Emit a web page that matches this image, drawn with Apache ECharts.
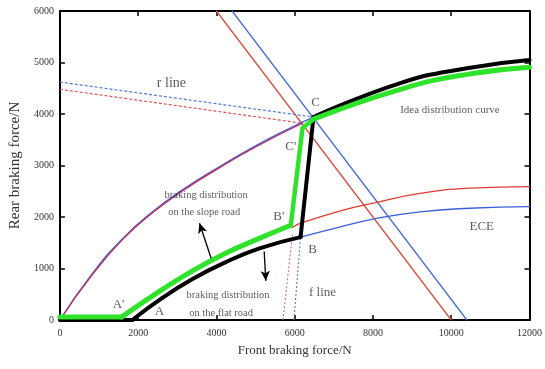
<!DOCTYPE html>
<html>
<head>
<meta charset="utf-8">
<script src="https://cdn.jsdelivr.net/npm/echarts@6/dist/echarts.min.js"></script>
<style>html,body{margin:0;padding:0;background:#fff}#c{width:545px;height:369px}</style>
</head>
<body>
<div id="c"></div>
<script>
// ---- data ([front N, rear N]) ----
const xTicks = [0, 2000, 4000, 6000, 8000, 10000, 12000];
const yTicks = [0, 1000, 2000, 3000, 4000, 5000, 6000];

// thick black: braking distribution on the flat road
const blackFlat   = [[0, 0], [1850, 0]];
const blackRise   = [[1850, 0], [2600, 420], [3400, 800], [4200, 1110], [5100, 1390], [6150, 1610]];
const blackJump   = [[6150, 1610], [6480, 3940]];
const blackIdeal  = [[6480, 3940], [8700, 4600], [10400, 4890], [12000, 5050]];

// thick green: braking distribution on the slope road
const greenFlat   = [[0, 60], [1580, 60]];
const greenRise   = [[1580, 60], [2590, 580], [3400, 960], [4300, 1320], [5140, 1600], [5900, 1840]];
const greenJump   = [[5900, 1840], [6200, 3730], [6480, 3900]];
const greenIdeal  = [[6480, 3900], [8700, 4480], [10400, 4770], [12000, 4910]];

// thin ideal curves from origin
const idealBlue   = [[0, 0], [800, 870], [1600, 1580], [2400, 2120], [3200, 2560], [4000, 2940], [5000, 3380], [6000, 3770], [6480, 3940]];
const idealRed    = [[0, 0], [800, 850], [1600, 1560], [2400, 2100], [3200, 2540], [4000, 2920], [5000, 3360], [6200, 3820]];

// ECE curves
const eceRed      = [[5950, 1800], [6150, 1880], [7170, 2120], [8010, 2270], [9200, 2460], [10475, 2560], [12000, 2590]];
const eceBlue     = [[6150, 1610], [7170, 1810], [8010, 1960], [9200, 2100], [10475, 2170], [12000, 2200]];

// straight lines
const diagRed     = [[4000, 6000], [10000, 0]];
const diagBlue    = [[4400, 6000], [10400, 0]];
const rLineBlue   = [[0, 4620], [6480, 3940]];
const rLineRed    = [[0, 4480], [6200, 3820]];
const fLineRed    = [[5700, 0], [5950, 1700]];
const fLineBlue   = [[5980, 0], [6150, 1610]];

// arrows [from, to]
const arrows = [
  [[3865, 1200], [3567, 1880]],
  [[5220, 1330], [5263, 760]]
];

// annotations [text, x, y, fontSize]
const notes = [
  ['r line', 2850, 4600, 14],
  ['C', 6535, 4214, 13],
  ["C'", 5900, 3360, 13],
  ["B'", 5594, 2000, 13],
  ['B', 6458, 1359, 13],
  ['f line', 6712, 524, 13],
  ['ECE', 10780, 1806, 13],
  ['Idea distribution curve', 9967, 4078, 11],
  ["A'", 1500, 291, 13],
  ['A', 2543, 155, 13],
  ['braking distribution', 3738, 2427, 10.5],
  ['on the slope road', 3687, 2097, 10.5],
  ['braking distribution', 4297, 485, 10.5],
  ['on the flat road', 4119, 136, 10.5]
];

// ---- chart ----
const FONT = "'Liberation Serif','Times New Roman',serif";
const chart = echarts.init(document.getElementById('c'), null, {renderer: 'canvas'});

function line(data, color, width, opts) {
  return Object.assign({
    type: 'line', data: data, showSymbol: false, symbol: 'none',
    lineStyle: {color: color, width: width, cap: 'round', join: 'round'},
    silent: true, animation: false, z: 2
  }, opts || {});
}

const axisCommon = {
  type: 'value',
  axisLine: {show: true, onZero: false, lineStyle: {color: '#000', width: 2}},
  axisTick: {show: true, inside: true, length: 5, lineStyle: {color: '#000', width: 1.5}},
  splitLine: {show: false}
};
const plain = v => String(v);

const option = {
  backgroundColor: '#fff',
  animation: false,
  grid: {left: 58, right: 15, top: 11, bottom: 49, containLabel: false},
  xAxis: [
    Object.assign({}, axisCommon, {
      min: xTicks[0], max: xTicks[xTicks.length - 1], interval: xTicks[1] - xTicks[0],
      position: 'bottom',
      axisLabel: {color: '#333', fontFamily: FONT, fontSize: 10, margin: 8, formatter: plain},
      name: 'Front braking force/N', nameLocation: 'middle', nameGap: 24,
      nameTextStyle: {color: '#333', fontFamily: FONT, fontSize: 13}
    }),
    Object.assign({}, axisCommon, {
      min: xTicks[0], max: xTicks[xTicks.length - 1], interval: xTicks[1] - xTicks[0],
      position: 'top', axisLabel: {show: false}
    })
  ],
  yAxis: [
    Object.assign({}, axisCommon, {
      min: yTicks[0], max: yTicks[yTicks.length - 1], interval: yTicks[1] - yTicks[0],
      position: 'left',
      axisLabel: {color: '#333', fontFamily: FONT, fontSize: 10, margin: 6, formatter: plain},
      name: 'Rear braking force/N', nameLocation: 'middle', nameGap: 33,
      nameTextStyle: {color: '#333', fontFamily: FONT, fontSize: 15}
    }),
    Object.assign({}, axisCommon, {
      min: yTicks[0], max: yTicks[yTicks.length - 1], interval: yTicks[1] - yTicks[0],
      position: 'right', axisLabel: {show: false}
    })
  ],
  series: [
    line(diagRed, '#d8503f', 1.3),
    line(diagBlue, '#4a6fd8', 1.3),
    line(rLineBlue, '#5577e0', 1.2, {lineStyle: {color: '#5577e0', width: 1.2, type: [3, 2]}}),
    line(rLineRed, '#e05555', 1.2, {lineStyle: {color: '#e05555', width: 1.2, type: [3, 2]}}),
    line(fLineRed, '#d06a8a', 1.1, {lineStyle: {color: '#d06a8a', width: 1.1, type: [2, 2]}}),
    line(fLineBlue, '#5a70d8', 1.1, {lineStyle: {color: '#5a70d8', width: 1.1, type: [2, 2]}}),
    line(eceRed, '#e03a30', 1.3, {smooth: 0.5}),
    line(eceBlue, '#3b5fd6', 1.3, {smooth: 0.5}),
    line(idealBlue, '#4460d0', 1.4, {smooth: 0.5}),
    line(idealRed, '#c02c5c', 1.3, {smooth: 0.5}),
    line(blackFlat, '#000', 4, {z: 3}),
    line(blackRise, '#000', 4, {z: 3, smooth: 0.5}),
    line(blackJump, '#000', 4, {z: 3}),
    line(blackIdeal, '#000', 4, {z: 3, smooth: 0.5}),
    line(greenFlat, '#2ee32a', 5, {z: 4}),
    line(greenRise, '#2ee32a', 5, {z: 4, smooth: 0.5}),
    line(greenJump, '#2ee32a', 4.5, {z: 4}),
    line(greenIdeal, '#2ee32a', 5, {z: 4, smooth: 0.5,
      markLine: {
        silent: true, animation: false,
        symbol: ['none', 'arrow'], symbolSize: [7, 10],
        label: {show: false},
        lineStyle: {color: '#000', width: 1.3, type: 'solid'},
        data: arrows.map(a => [{coord: a[0]}, {coord: a[1]}])
      }
    }),
    {
      type: 'scatter', silent: true, animation: false, z: 6,
      symbolSize: 1, itemStyle: {color: 'rgba(0,0,0,0)'},
      data: notes.map(n => ({
        value: [n[1], n[2]],
        label: {show: true, position: 'inside', formatter: n[0],
                fontFamily: FONT, fontSize: n[3], color: '#333'}
      }))
    }
  ]
};
chart.setOption(option);
</script>
</body>
</html>
